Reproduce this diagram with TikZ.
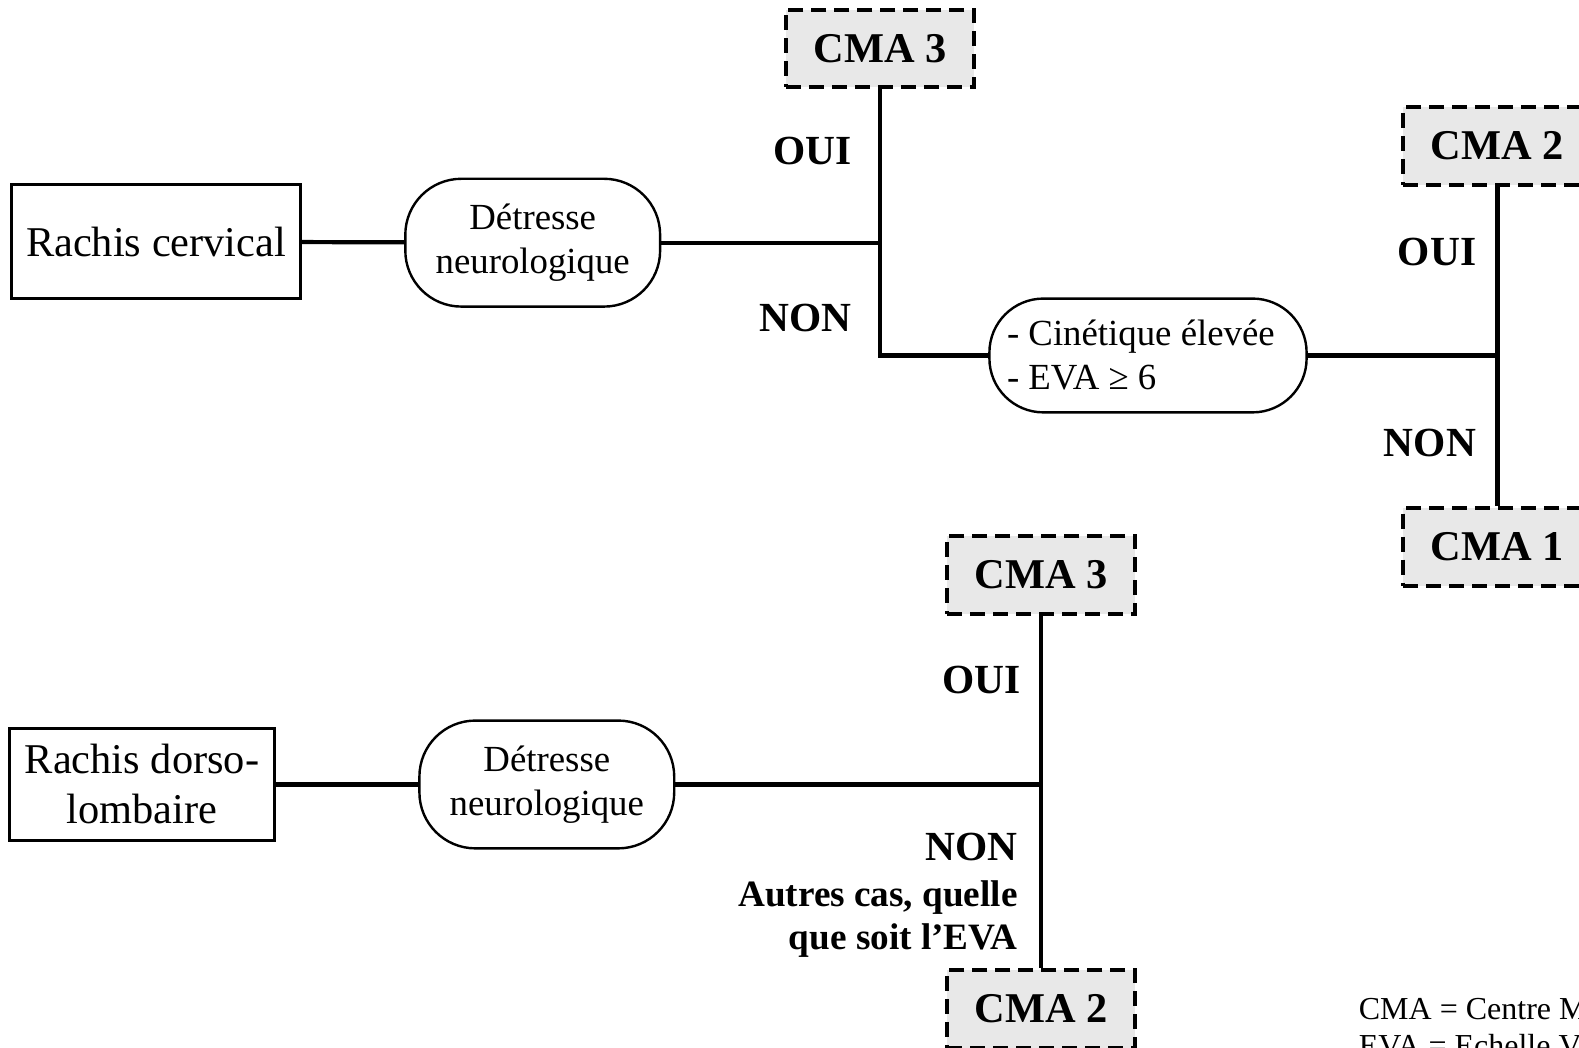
\documentclass[tikz,border=0pt]{standalone}
\usepackage{fontspec}
\setmainfont{Liberation Serif}
\begin{document}
\begin{tikzpicture}[x=0.50351pt, y=-0.50351pt,
    zone/.style={draw, line width=1.5pt, inner sep=0pt, align=center},
    test/.style={draw, line width=1.2pt, rounded corners=28pt, inner sep=0pt,
        minimum width=127.4pt, minimum height=63.9pt, align=center,
        font=\fontsize{18.4}{22}\selectfont},
    cma/.style={draw, line width=2pt, dash pattern=on 7.5pt off 4pt, fill=gray!18,
        inner sep=0pt, minimum width=94.2pt, minimum height=38.8pt,
        font=\fontsize{21.2}{25}\selectfont\bfseries},
    rep/.style={font=\fontsize{20.7}{24}\selectfont\bfseries},
    conn/.style={line width=2.1pt}]
    \useasboundingbox (0, 0) rectangle (1568, 1040);
    % rachis cervical
    \node [zone, minimum width=144.5pt, minimum height=56.9pt,
        font=\fontsize{21.2}{25}\selectfont] (rc) at (155, 240) {Rachis cervical};
    \node [test] (d1) at (529, 241) {Détresse\\neurologique};
    \node [cma] (cma3a) at (874, 48) {CMA 3};
    \node [test, rounded corners=27pt, minimum width=158.6pt, minimum height=56.9pt,
        text width=141pt, align=flush left] (cin) at (1140, 353)
        {- Cinétique élevée\\- EVA ≥ 6};
    \node [cma] (cma2a) at (1487, 145) {CMA 2};
    \node [cma] (cma1) at (1487, 543) {CMA 1};
    \draw[conn] (rc) -- (d1);
    \draw[conn] (d1) -- (d1 -| cma3a);
    \draw[conn] (cma3a.south) |- (cin.west);
    \draw[conn] (cin) -- (cin -| cma2a);
    \draw[conn] (cma2a) -- (cma1);
    \node [rep] (oui1) at (807, 150) {OUI};
    \node [rep] (non1) at (800, 316) {NON};
    \node [rep] (oui2) at (1427, 250) {OUI};
    \node [rep] (non2) at (1420, 440) {NON};
    % rachis dorso-lombaire
    \node [zone, minimum width=132.4pt, minimum height=56.4pt,
        font=\fontsize{21.2}{25}\selectfont] (rd) at (141, 779) {Rachis dorso-\\lombaire};
    \node [test] (d2) at (543, 779) {Détresse\\neurologique};
    \node [cma] (cma3b) at (1034, 571) {CMA 3};
    \node [cma] (cma2b) at (1034, 1002) {CMA 2};
    \draw[conn] (rd) -- (d2);
    \draw[conn] (d2) -- (d2 -| cma3b);
    \draw[conn] (cma3b) -- (cma2b);
    \node [rep] (oui3) at (975, 675) {OUI};
    \node [rep, anchor=east, inner sep=0pt] (non3) at (1011, 841) {NON};
    \node [anchor=north east, align=right, inner sep=0pt,
        font=\fontsize{18.6}{21.7}\selectfont\bfseries] (autres) at (1011, 874)
        {Autres cas, quelle\\que soit l’EVA};
    % legende
    \node [anchor=base west, inner sep=0pt, font=\fontsize{16}{18}\selectfont]
        (leg1) at (1349, 1012) {CMA = Centre Médical d’Accueil};
    \node [anchor=base west, inner sep=0pt, font=\fontsize{16}{18}\selectfont]
        (leg2) at (1349, 1049) {EVA = Echelle Visuelle Analogique};
\end{tikzpicture}
\end{document}
